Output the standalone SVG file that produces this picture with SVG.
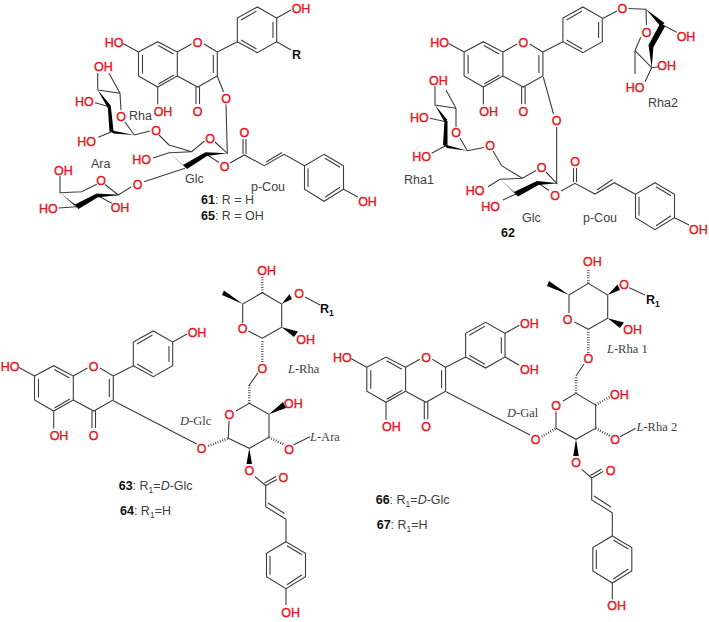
<svg xmlns="http://www.w3.org/2000/svg" width="709" height="622" viewBox="0 0 709 622">
<style>
.b{fill:none;stroke:#3d3d3d;stroke-width:1.1}
.w{fill:#000;stroke:none}
.h{fill:none;stroke:#333;stroke-width:2.6;stroke-dasharray:.8 1.7}
text{font-family:"Liberation Sans",Arial,sans-serif}
.a{font-size:12.5px;fill:#e5161f;stroke:#e5161f;stroke-width:.4;text-anchor:middle}
.k{font-size:12.5px;fill:#404040}
.r{font-size:12.5px;fill:#111;font-weight:700}
.s{font-family:"Liberation Serif","Times New Roman",serif;font-size:12.5px;fill:#404040}
.i{font-style:italic}
.n{font-weight:700;fill:#111}
.u{font-size:8.5px}
</style>
<defs>
<path id="core" d="M138.5 52L157.7 41.7L177.3 52V76L157.7 87L138.5 76ZM142.5 55V73.5M158.3 45.5L173.5 54M174 75L158.5 84M177.3 52L191.5 44M204 44L217.3 52V76L197.7 87L177.3 76M213.3 55V73M196 87V104M199.5 87V104M138.5 52L123 43.5M157.7 87V104.5M217.3 52L237.3 41.7"/>
<path id="rb" d="M237.3 41.7L257.3 52.7L276.7 41.7V18L257.3 7L237.3 18ZM241 20L256.5 11M273 22V38M241 40L256.5 49"/>
<path id="ph" d="M0 0L19.5 11.5V35L0 47L-19.5 35V11.5ZM-16 14V33M1 4L16 13M16 33L1 43"/>
</defs>

<g id="c61">
<use href="#core" class="b"/><use href="#rb" class="b"/><use href="#ph" x="324" y="154.3" class="b"/>
<path class="b" d="M276.7 18L291 10M276.7 41.7L291 50M217.3 76L223.5 92M226 104.5L227.3 153.3L215 142M204.5 141L191.7 151.7L169 152.7M191.7 151.7L169 145L159 135M169 152.7L153 158M185 168.3L144 181.7M131 187L118.3 195L96.7 195M206 154L219 162.5M230 163L244.3 155L264.3 165.7L284 154.3L304.5 165.8M266 162L282 152.5M243 154V139M246 154V139M343.5 189.3L358 197M97.7 90V73M97.7 90L120 93.3L121 110M120 93.3L109 73.3M109.3 106.7L95 102.7M111.7 131.7L98.3 137.3M134.3 135L125 122M134.3 135L150 131M118.3 195L105 184.5M96.7 184.3L81.7 191.7L60 192.7V176M76.7 206.7L58.5 208M96.7 195L111.7 203.3"/>
<polygon class="w" points="227.3,153.3 205.5,152.3 206.5,156"/>
<polygon class="w" points="205.5,152.3 207,156 187,169 183,165"/>
<polygon class="w" points="169,152.7 187,169 183,165"/>
<polygon class="w" points="97.7,90 107.8,108 110.8,105.5"/>
<polygon class="w" points="107.8,107 110.8,106 113.7,132.5 109.5,131.5"/>
<polygon class="w" points="109.5,130 113.5,133.5 134.3,135"/>
<polygon class="w" points="96.7,193.5 97.5,197.5 78.5,209 75,204.5"/>
<polygon class="w" points="60,192.7 75,204.5 78.5,209"/>
<polygon class="w" points="118.3,195 96.7,193.5 97.5,197.5"/>
<text class="a" x="114" y="47">HO</text><text class="a" x="197.7" y="46.5">O</text><text class="a" x="163" y="115.5">OH</text><text class="a" x="197.7" y="115.5">O</text>
<text class="a" x="301" y="12.5">OH</text><text class="r" x="292" y="58.5">R</text>
<text class="a" x="226" y="102.5">O</text><text class="a" x="210" y="142.5">O</text><text class="a" x="224.7" y="170.5">O</text><text class="a" x="244.3" y="137">O</text><text class="a" x="141.7" y="163.5">HO</text><text class="a" x="137.7" y="188.8">O</text><text class="a" x="156" y="134.5">O</text><text class="a" x="121" y="121">O</text><text class="a" x="103.3" y="71">OH</text><text class="a" x="84.3" y="106">HO</text><text class="a" x="86.7" y="146">HO</text><text class="a" x="101" y="185">O</text><text class="a" x="63.3" y="174.5">OH</text><text class="a" x="48.3" y="213">HO</text><text class="a" x="120" y="212">OH</text><text class="a" x="367.5" y="205.5">OH</text>
<text class="k" x="129" y="120">Rha</text><text class="k" x="91" y="168">Ara</text><text class="k" x="185" y="182.5">Glc</text><text class="k" x="251" y="191">p-Cou</text>
<text class="k" x="201" y="204"><tspan class="n">61</tspan>: R = H</text><text class="k" x="201" y="220"><tspan class="n">65</tspan>: R = OH</text>
</g>

<g id="c62">
<g transform="translate(325.6 0)"><use href="#core" class="b"/><use href="#rb" class="b"/>
<text class="a" x="114" y="47">HO</text><text class="a" x="197.7" y="46.5">O</text><text class="a" x="163" y="115.5">OH</text><text class="a" x="197.7" y="115.5">O</text></g>
<use href="#ph" x="655" y="182.7" class="b"/>
<path class="b" d="M603 18.3L617 11M628.5 8.5L646 9.3L646.5 25M640.7 37.3L635 50.7L651.7 67.7M635 50.7V74M662.7 25L676.7 32.3M651.7 67.7L658.3 66.7M651.7 67.7L645 81.7M543.3 77L553.5 114M556.7 127V183.3L546 172M536 170.5L522.3 178.3L500 179.3M522.3 178.3L501.7 165.7L493 151M500 179.3L488 186.7M516 194L503 200M537.7 182.7L549 190.5M561 191L575 183.3L595 194L614.3 182.7L635.5 194.2M597 190L612.5 179.5M573.5 182V168M576.5 182V168M674.5 217.7L689 225M467.3 150.7L484 147.5M467.3 150.7L460 138M456 127V108.3L446 90M456 108.3L435 105V86M446 121.7L430 118.3M445 146L431.7 153.3"/>
<polygon class="w" points="646,9.3 661,27 664.5,23"/>
<polygon class="w" points="660.5,23 665,26.5 653.5,47 648.5,45"/>
<polygon class="w" points="648.5,45 653.5,46 651.7,67.7"/>
<polygon class="w" points="558.3,183.3 537,181 538,185"/>
<polygon class="w" points="537,181 538.5,185 518,196.5 514,192"/>
<polygon class="w" points="500,179.3 514,192 518,196.5"/>
<polygon class="w" points="435,105 444.5,122 447.5,120"/>
<polygon class="w" points="444.5,121 447.5,121 447.5,147 443,145"/>
<polygon class="w" points="443,144 447,148 467.3,150.7"/>
<text class="a" x="622.3" y="13">O</text><text class="a" x="646.7" y="36.8">O</text><text class="a" x="686" y="40.5">OH</text><text class="a" x="666.7" y="69.5">OH</text><text class="a" x="635" y="92.2">HO</text>
<text class="a" x="556.7" y="124.5">O</text><text class="a" x="541.7" y="172.2">O</text><text class="a" x="555" y="199.5">O</text><text class="a" x="575" y="165.5">O</text><text class="a" x="490" y="150.2">O</text><text class="a" x="456" y="137.2">O</text><text class="a" x="438.3" y="85.2">OH</text><text class="a" x="419.3" y="121.8">HO</text><text class="a" x="421.7" y="161.2">HO</text><text class="a" x="475" y="194.5">HO</text><text class="a" x="490.7" y="210.5">HO</text><text class="a" x="698.3" y="233.8">OH</text>
<text class="k" x="648" y="107">Rha2</text><text class="k" x="404" y="184">Rha1</text><text class="k" x="522" y="222">Glc</text><text class="k" x="583" y="222">p-Cou</text><text class="k n" x="501" y="236.5">62</text>
</g>

<g id="c63">
<g transform="translate(-104 324)"><use href="#core" class="b"/><use href="#rb" class="b"/><path class="b" d="M276.7 18L291 10"/>
<text class="a" x="114" y="47">HO</text><text class="a" x="197.7" y="46.5">O</text><text class="a" x="163" y="115.5">OH</text><text class="a" x="197.7" y="115.5">O</text><text class="a" x="301" y="12.5">OH</text></g>
<use href="#ph" x="286" y="541.7" class="b"/>
<path class="b" d="M113.3 400.7L196.7 444M228.3 438.3L229 421M236 411L249.3 403.3L269 414.3V437.3L249.3 448.3L228.3 438.3M249.3 385L258 373M262.3 338.3L281.7 327.3V304L262.3 292.7L242.7 304V323M248.3 331L262.3 338.3M305 297L320 305M293.3 445L310 436.7M255 476.7L265.7 485.5L277 479.5M264.5 483L276 476.5M265.7 485V506.7L286 519.3M268 503L284.5 513.5M286 519.3V541.7M286 588.7V605"/>
<path class="h" d="M208.3 446L228.3 438.3M249.3 403.3V385M262.3 362V340M262.3 292.7V277M269 437.3L285 445"/>
<polygon class="w" points="242.7,304 222,295 224,290.5"/>
<polygon class="w" points="281.7,304 292,299 289.5,294"/>
<polygon class="w" points="281.7,327.3 298,331.5 294,337"/>
<polygon class="w" points="269,414.3 283,402 286,408"/>
<polygon class="w" points="249.3,448.3 246.5,464 252,464"/>
<text class="a" x="201.7" y="452.8">O</text><text class="a" x="229.3" y="418.8">O</text><text class="a" x="262.3" y="372.8">O</text><text class="a" x="242.7" y="332.8">O</text><text class="a" x="266.7" y="275.2">OH</text><text class="a" x="299" y="297.8">O</text><text class="r" x="320" y="312.5">R<tspan class="u" dy="3">1</tspan></text><text class="a" x="305.7" y="343.8">OH</text><text class="a" x="293.3" y="407.8">OH</text><text class="a" x="289" y="453.5">O</text><text class="a" x="249.3" y="475.2">O</text><text class="a" x="283.3" y="481.8">O</text><text class="a" x="290.7" y="617.2">OH</text>
<text class="s" x="288" y="372.5"><tspan class="i">L</tspan>-Rha</text><text class="s" x="310" y="440.5"><tspan class="i">L</tspan>-Ara</text><text class="s" x="180" y="425"><tspan class="i">D</tspan>-Glc</text>
<text class="k" x="118.7" y="490"><tspan class="n">63</tspan>: R<tspan class="u" dy="3">1</tspan><tspan dy="-3">=</tspan><tspan class="i">D</tspan>-Glc</text>
<text class="k" x="120" y="515.3"><tspan class="n">64</tspan>: R<tspan class="u" dy="3">1</tspan><tspan dy="-3">=H</tspan></text>
</g>

<g id="c66">
<g transform="translate(228.3 315.3)"><use href="#core" class="b"/><use href="#rb" class="b"/><path class="b" d="M276.7 18L291 10M276.7 41.7L291 50"/>
<text class="a" x="114" y="47">HO</text><text class="a" x="197.7" y="46.5">O</text><text class="a" x="163" y="115.5">OH</text><text class="a" x="197.7" y="115.5">O</text><text class="a" x="301" y="12.5">OH</text><text class="a" x="301" y="58.5">OH</text></g>
<use href="#ph" x="612.3" y="536" class="b"/>
<path class="b" d="M446 391.7L530 435M556 428.3V411.5M563 401L576 393.3L595.7 405V428.3L576 439.3L556 428.3M576 376L584 364M588.3 329.3L607.7 318.3V295L588.3 283.3L569 295V313M574.5 322L588.3 329.3M629.3 287.7L645 295M620 436.7L635.7 428.3M581.7 469.3L591.7 478L603 471.5M590.5 475.5L601.5 469M591.7 478.3V500L612.3 512.7M594 496L611 507M612.3 512.7V536M612.3 583V599.3"/>
<path class="h" d="M541.7 436.7L556 428.3M576 393.3V376M588.3 352.7V330M588.3 283.3V268.3M595.7 405L610 396.7M595.7 428.3L610 436"/>
<polygon class="w" points="569,295 547,286 549,281"/>
<polygon class="w" points="607.7,295 620,290 617.5,284.5"/>
<polygon class="w" points="607.7,318.3 624,322.5 620,328"/>
<polygon class="w" points="576,439.3 573.2,456 578.8,456"/>
<text class="a" x="535.7" y="443.8">O</text><text class="a" x="556" y="409.5">O</text><text class="a" x="588.3" y="362.8">O</text><text class="a" x="567.7" y="323.5">O</text><text class="a" x="592.3" y="265.5">OH</text><text class="a" x="624" y="288.5">O</text><text class="r" x="646" y="303.8">R<tspan class="u" dy="3">1</tspan></text><text class="a" x="632.7" y="333.8">OH</text><text class="a" x="619.3" y="398.5">OH</text><text class="a" x="615" y="443.8">O</text><text class="a" x="576" y="467.2">O</text><text class="a" x="610.7" y="474.5">O</text><text class="a" x="616.7" y="610.2">OH</text>
<text class="s" x="607" y="352.5"><tspan class="i">L</tspan>-Rha 1</text><text class="s" x="636.5" y="430.5"><tspan class="i">L</tspan>-Rha 2</text><text class="s" x="507" y="417"><tspan class="i">D</tspan>-Gal</text>
<text class="k" x="375.7" y="504"><tspan class="n">66</tspan>: R<tspan class="u" dy="3">1</tspan><tspan dy="-3">=</tspan><tspan class="i">D</tspan>-Glc</text>
<text class="k" x="376.7" y="529.3"><tspan class="n">67</tspan>: R<tspan class="u" dy="3">1</tspan><tspan dy="-3">=H</tspan></text>
</g>
</svg>
